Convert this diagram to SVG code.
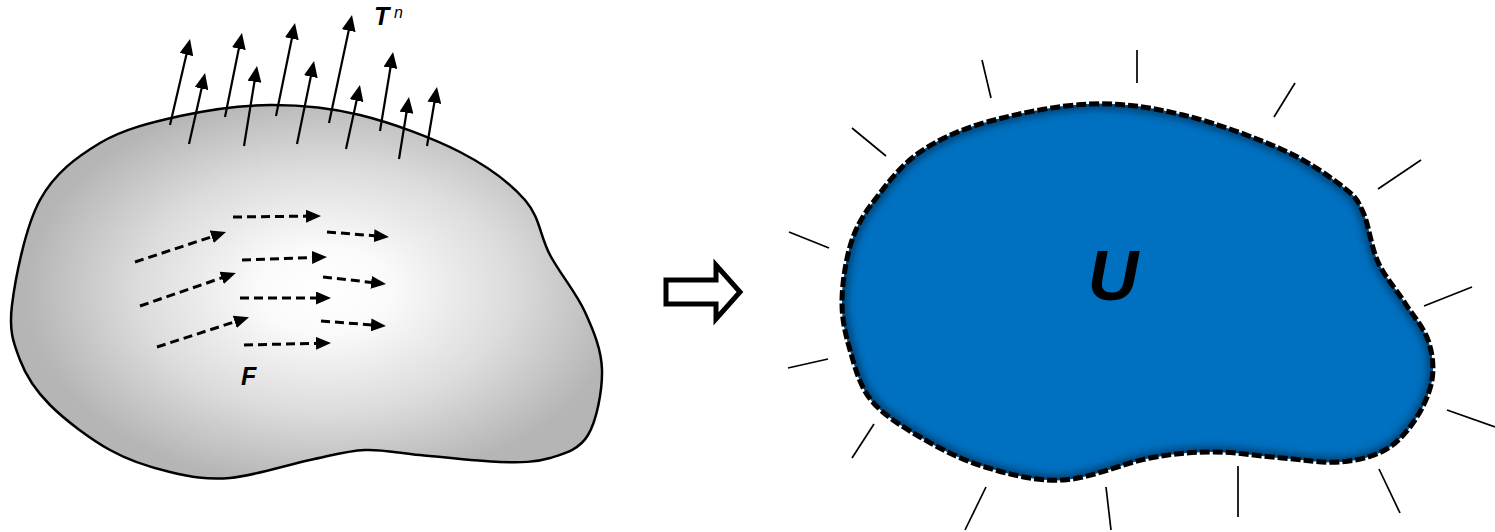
<svg xmlns="http://www.w3.org/2000/svg" width="1495" height="532" viewBox="0 0 1495 532">
  <style>
    .blob { stroke: #000; stroke-width: 2.5; stroke-linejoin: round; }
    .tn { stroke: #000; stroke-width: 2.2; fill: none; marker-end: url(#headSolid); }
    .fa { stroke: #000; stroke-width: 3; fill: none; stroke-dasharray: 9 5; marker-end: url(#headF); }
    .tick { stroke: #000; stroke-width: 1.7; stroke-linecap: butt; }
    .lbl { font-family: "Liberation Sans", Arial, sans-serif; font-weight: bold; font-style: italic; fill: #000; }
  </style>
  <defs>
    <radialGradient id="grayGrad" gradientUnits="userSpaceOnUse" cx="325" cy="290" r="300" gradientTransform="translate(325 290) scale(1 0.66) translate(-325 -290)">
      <stop offset="0" stop-color="#ffffff"/>
      <stop offset="0.22" stop-color="#fafafa"/>
      <stop offset="0.62" stop-color="#dcdcdc"/>
      <stop offset="1" stop-color="#b5b5b5"/>
    </radialGradient>
    <marker id="headSolid" markerUnits="userSpaceOnUse" markerWidth="16" markerHeight="14" viewBox="0 0 16 14" refX="4" refY="7" orient="auto">
      <path d="M0,0 L16,7 L0,14 Z" fill="#000"/>
    </marker>
    <marker id="headF" markerUnits="userSpaceOnUse" markerWidth="15" markerHeight="13" viewBox="0 0 15 13" refX="3" refY="6.5" orient="auto">
      <path d="M0,0 L15,6.5 L0,13 Z" fill="#000"/>
    </marker>
    <path id="rblob" d="M842,300 C842.33,281.67 846.17,257.17 852,240 C857.83,222.83 865.67,211.67 877,197 C888.33,182.33 901.67,164.5 920,152 C938.33,139.5 958.67,130 987,122 C1015.33,114 1057.33,105.17 1090,104 C1122.67,102.83 1150.83,107.33 1183,115 C1215.17,122.67 1256.33,138 1283,150 C1309.67,162 1329.67,176.67 1343,187 C1356.33,197.33 1357.17,199.5 1363,212 C1368.83,224.5 1371,246.83 1378,262 C1385,277.17 1396.67,290 1405,303 C1413.33,316 1423.5,327.17 1428,340 C1432.5,352.83 1434.17,366.67 1432,380 C1429.83,393.33 1422.83,408.33 1415,420 C1407.17,431.67 1397.5,443 1385,450 C1372.5,457 1357.17,460.67 1340,462 C1322.83,463.33 1303,459.67 1282,458 C1261,456.33 1236,452 1214,452 C1192,452 1175.17,453.33 1150,458 C1124.83,462.67 1090.5,478.5 1063,480 C1035.5,481.5 1008.83,474.17 985,467 C961.17,459.83 939,448.17 920,437 C901,425.83 882.67,414.5 871,400 C859.33,385.5 854.83,366.67 850,350 C845.17,333.33 841.67,318.33 842,300 Z"/>
    <clipPath id="rclip"><use href="#rblob"/></clipPath>
    <filter id="soft" x="-10%" y="-10%" width="120%" height="120%">
      <feGaussianBlur stdDeviation="3.5"/>
    </filter>
  </defs>

  <g id="left-body">
    <path class="blob" fill="url(#grayGrad)" d="M12,305 C15.3,278.3 25.3,227 40,200 C54.7,173 76.7,157 100,143 C123.3,129 151.7,122.3 180,116 C208.3,109.7 240,105.2 270,105 C300,104.8 328.3,107.2 360,115 C391.7,122.8 432.5,137.8 460,152 C487.5,166.2 510,182.8 525,200 C540,217.2 540,236.3 550,255 C560,273.7 576.3,292.8 585,312 C593.7,331.2 601.5,349.5 602,370 C602.5,390.5 596.7,420.3 588,435 C579.3,449.7 564.7,453.5 550,458 C535.3,462.5 521.7,462.5 500,462 C478.3,461.5 442.5,457 420,455 C397.5,453 383.3,449.2 365,450 C346.7,450.8 332.5,455.3 310,460 C287.5,464.7 253.3,476 230,478 C206.7,480 190,476.7 170,472 C150,467.3 130,461.2 110,450 C90,438.8 65,420 50,405 C35,390 26.3,376.7 20,360 C13.7,343.3 8.7,331.7 12,305 Z"/>
  </g>

  <g id="traction-arrows">
    <line class="tn" x1="170" y1="125" x2="187.3" y2="50.7"/>
    <line class="tn" x1="189" y1="144" x2="202.4" y2="84.7"/>
    <line class="tn" x1="225" y1="117" x2="239.6" y2="44.8"/>
    <line class="tn" x1="244" y1="146" x2="255.1" y2="77.8"/>
    <line class="tn" x1="276" y1="116" x2="292.6" y2="34.8"/>
    <line class="tn" x1="297" y1="144" x2="311.6" y2="72.8"/>
    <line class="tn" x1="329" y1="123" x2="349.5" y2="26.7"/>
    <line class="tn" x1="346" y1="149" x2="357.4" y2="96.7"/>
    <line class="tn" x1="380" y1="131" x2="391.1" y2="63.8"/>
    <line class="tn" x1="399" y1="159" x2="407.1" y2="108.8"/>
    <line class="tn" x1="427" y1="146" x2="435" y2="98.8"/>
  </g>
  <g id="label-Tn">
    <text class="lbl" x="374" y="25" font-size="25">T</text>
    <text x="394" y="18" font-size="16" font-style="italic" fill="#000" font-family="Liberation Sans, Arial, sans-serif">n</text>
  </g>

  <g id="body-force-arrows">
    <line class="fa" x1="135" y1="262" x2="214.6" y2="235.8"/>
    <line class="fa" x1="140" y1="306" x2="224.5" y2="276.9"/>
    <line class="fa" x1="157" y1="347" x2="237.6" y2="320.9"/>
    <line class="fa" x1="233" y1="217" x2="309" y2="216.1"/>
    <line class="fa" x1="242" y1="260" x2="315" y2="257.4"/>
    <line class="fa" x1="240" y1="298" x2="319" y2="298"/>
    <line class="fa" x1="244" y1="345" x2="319" y2="343.3"/>
    <line class="fa" x1="327" y1="232" x2="377" y2="236"/>
    <line class="fa" x1="323" y1="277" x2="374.1" y2="282.7"/>
    <line class="fa" x1="321" y1="321" x2="374" y2="325.1"/>
  </g>
  <g id="label-F">
    <text class="lbl" x="241" y="385" font-size="25">F</text>
  </g>

  <g id="transform-arrow">
    <path d="M666,280 L716,280 L716,265 L740,292 L716,319 L716,304 L666,304 Z" fill="#fff" stroke="#000" stroke-width="5" stroke-linejoin="miter"/>
  </g>

  <g id="right-body">
    <use href="#rblob" fill="#0070c0"/>
    <g clip-path="url(#rclip)">
      <use href="#rblob" fill="none" stroke="#00477d" stroke-width="12" filter="url(#soft)"/>
    </g>
    <use href="#rblob" fill="none" stroke="#000" stroke-width="5" stroke-dasharray="10 3"/>
    <text class="lbl" x="1113" y="300" font-size="70" text-anchor="middle">U</text>
  </g>

  <g id="normal-ticks">
    <line class="tick" x1="982" y1="60" x2="991" y2="98"/>
    <line class="tick" x1="1137" y1="50" x2="1137" y2="83"/>
    <line class="tick" x1="1295" y1="83" x2="1274" y2="117"/>
    <line class="tick" x1="1421" y1="160" x2="1378" y2="189"/>
    <line class="tick" x1="1472" y1="287" x2="1424" y2="306"/>
    <line class="tick" x1="1447" y1="410" x2="1495" y2="427"/>
    <line class="tick" x1="1379" y1="469" x2="1400" y2="513"/>
    <line class="tick" x1="1238" y1="466" x2="1238" y2="517"/>
    <line class="tick" x1="1106" y1="487" x2="1111" y2="530"/>
    <line class="tick" x1="986" y1="487" x2="965" y2="530"/>
    <line class="tick" x1="874" y1="424" x2="852" y2="458"/>
    <line class="tick" x1="828" y1="359" x2="788" y2="368"/>
    <line class="tick" x1="829" y1="248" x2="789" y2="232"/>
    <line class="tick" x1="886" y1="156" x2="852" y2="128"/>
  </g>
</svg>
